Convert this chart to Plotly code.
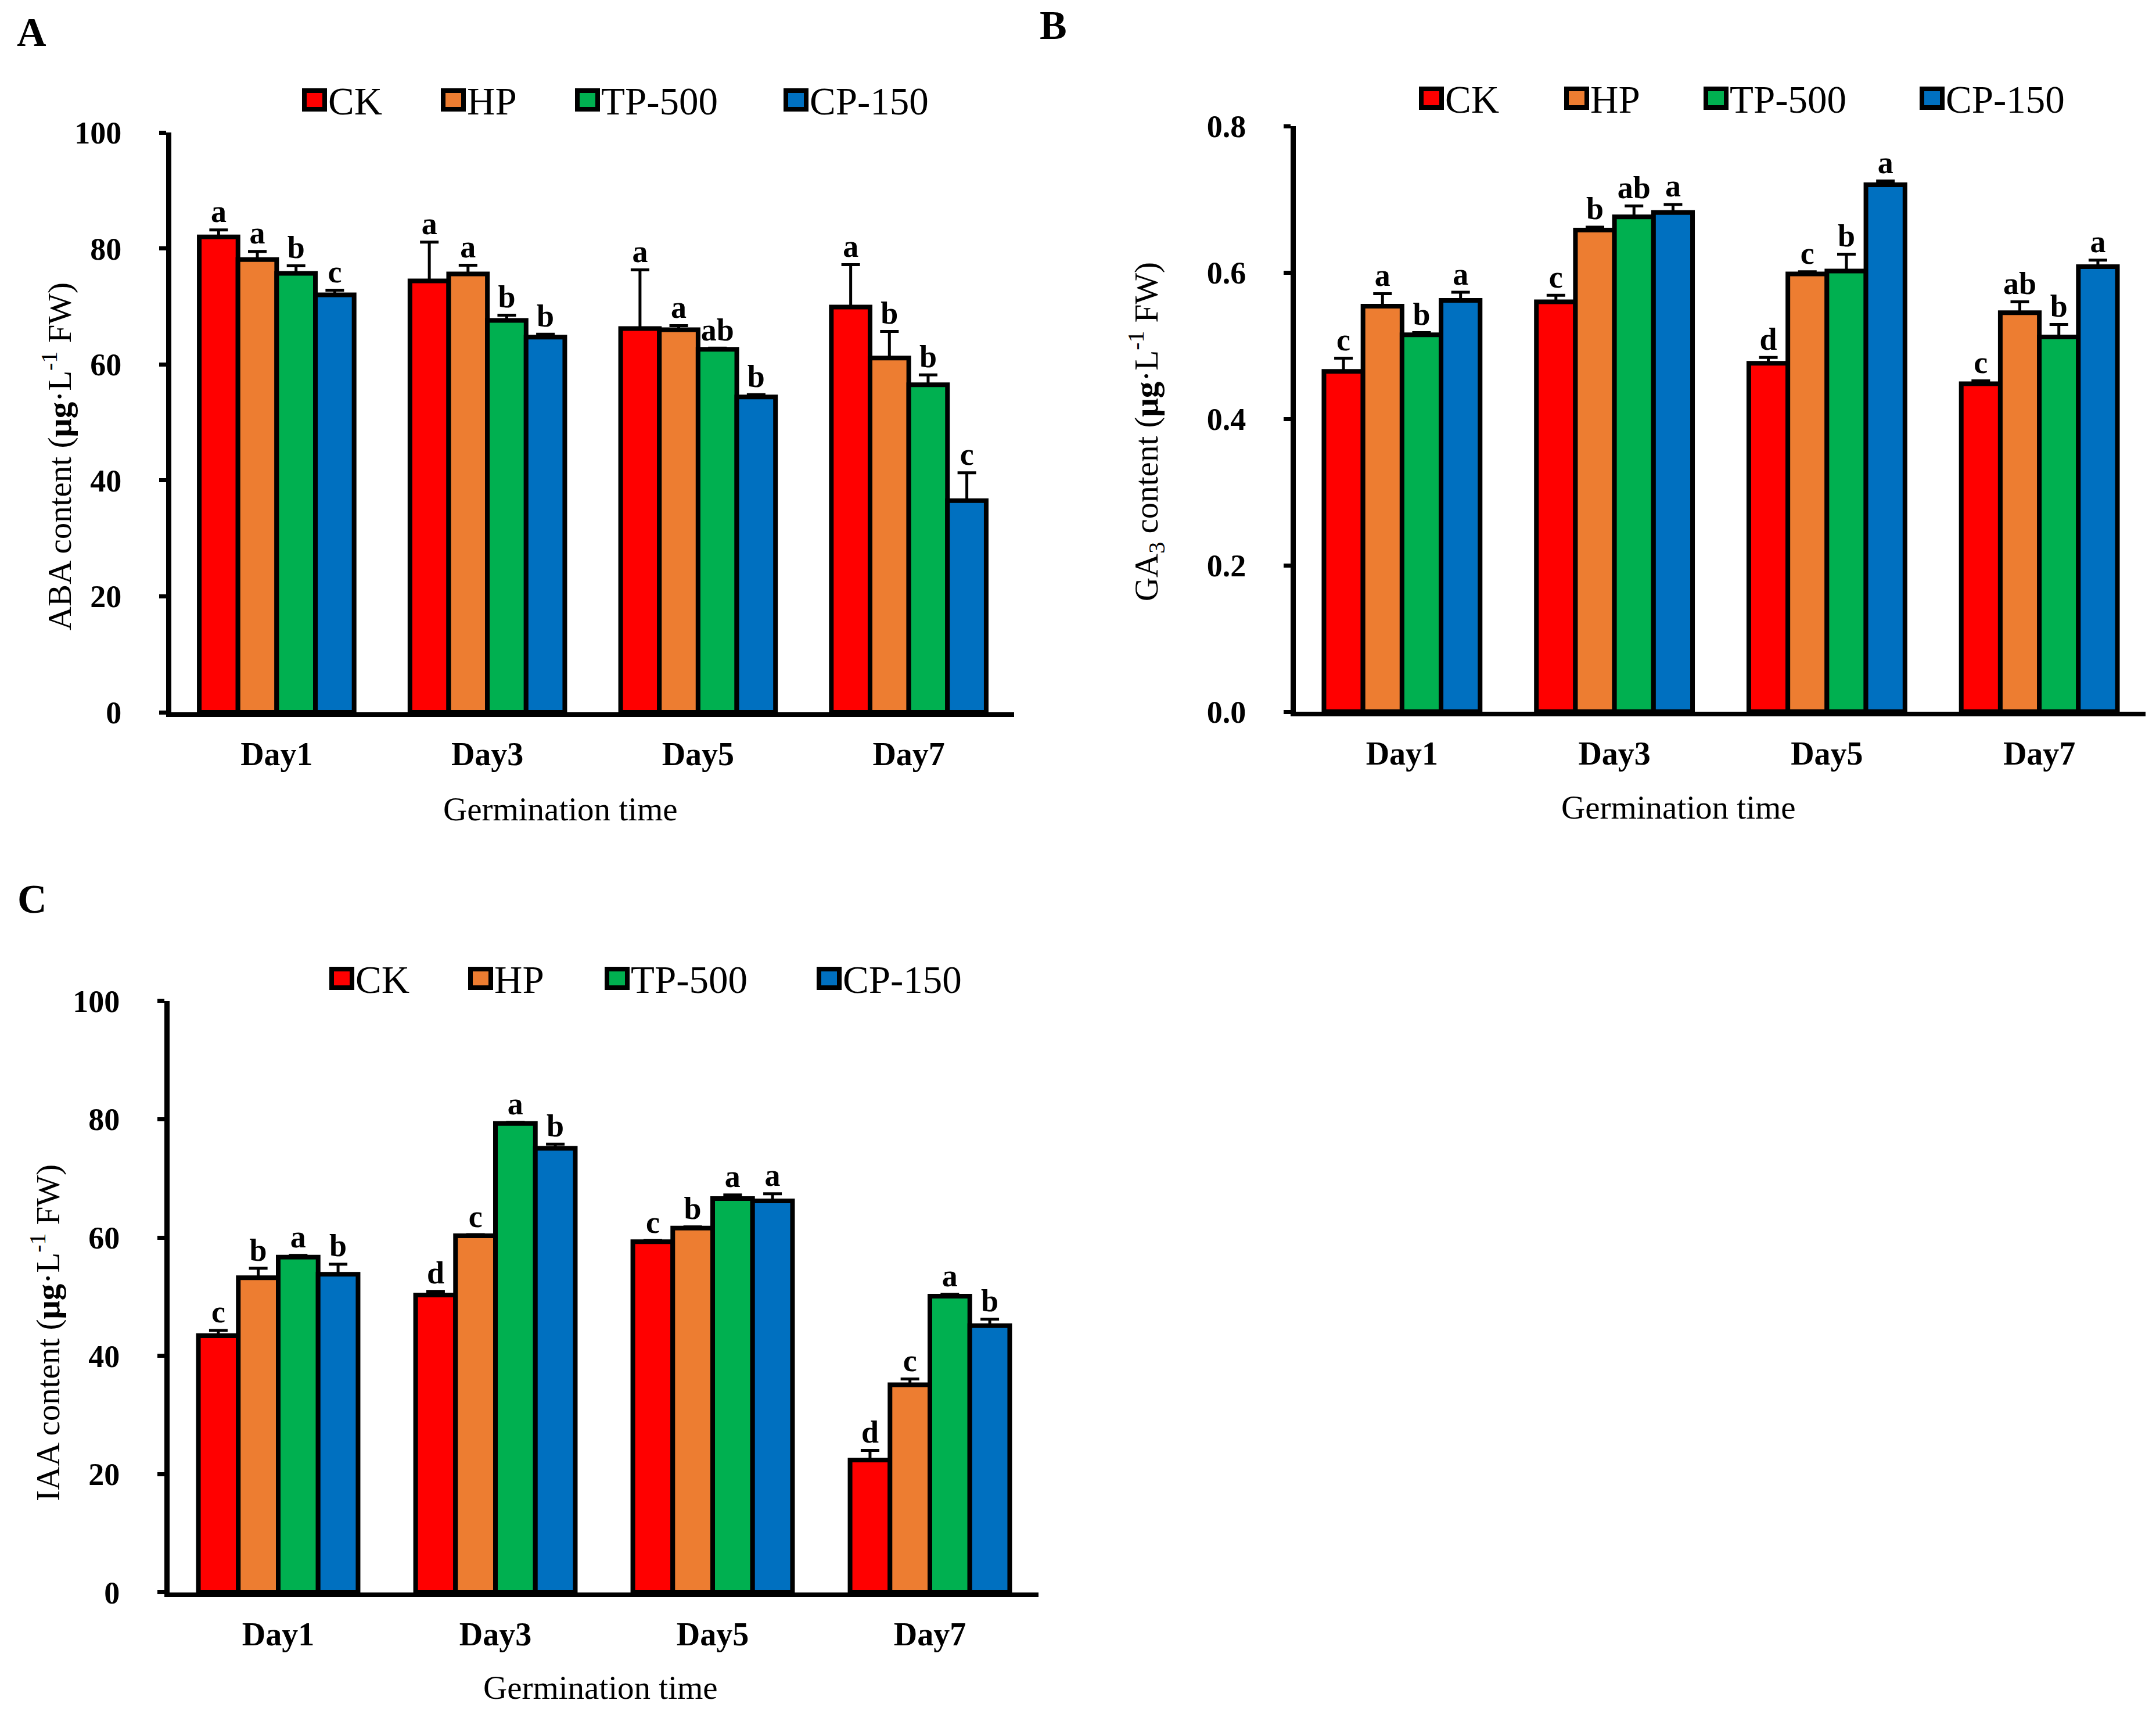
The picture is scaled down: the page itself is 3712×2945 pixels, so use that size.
import plotly.graph_objects as go

W, H = 3712, 2945

days = ["Day1", "Day3", "Day5", "Day7"]
treatments = ["CK", "HP", "TP-500", "CP-150"]
colors = ["#FF0000", "#ED7D31", "#00B050", "#0070C0"]

# Panel A: ABA content
aba_CK = [82.0, 74.4, 66.2, 69.9]
aba_HP = [78.1, 75.6, 66.0, 61.1]
aba_TP = [75.7, 67.6, 62.6, 56.5]
aba_CP = [72.0, 64.7, 54.4, 36.5]
aba_err_CK = [1.2, 6.7, 10.1, 7.3]
aba_err_HP = [1.4, 1.5, 0.7, 4.6]
aba_err_TP = [1.3, 0.9, 0.2, 1.7]
aba_err_CP = [0.8, 0.5, 0.4, 4.8]
aba_let_CK = ["a", "a", "a", "a"]
aba_let_HP = ["a", "a", "a", "b"]
aba_let_TP = ["b", "b", "ab", "b"]
aba_let_CP = ["c", "b", "b", "c"]

# Panel B: GA3 content
ga_CK = [0.465, 0.560, 0.476, 0.448]
ga_HP = [0.554, 0.658, 0.598, 0.545]
ga_TP = [0.515, 0.676, 0.602, 0.512]
ga_CP = [0.562, 0.682, 0.720, 0.608]
ga_err_CK = [0.018, 0.009, 0.008, 0.004]
ga_err_HP = [0.017, 0.004, 0.003, 0.015]
ga_err_TP = [0.003, 0.015, 0.023, 0.017]
ga_err_CP = [0.011, 0.011, 0.005, 0.009]
ga_let_CK = ["c", "c", "d", "c"]
ga_let_HP = ["a", "b", "c", "ab"]
ga_let_TP = ["b", "ab", "b", "b"]
ga_let_CP = ["a", "a", "a", "a"]

# Panel C: IAA content
iaa_CK = [43.4, 50.3, 59.3, 22.4]
iaa_HP = [53.2, 60.3, 61.6, 35.1]
iaa_TP = [56.7, 79.3, 66.6, 50.1]
iaa_CP = [53.8, 75.1, 66.2, 45.1]
iaa_err_CK = [0.9, 0.6, 0.2, 1.6]
iaa_err_HP = [1.6, 0.2, 0.2, 1.0]
iaa_err_TP = [0.3, 0.2, 0.6, 0.3]
iaa_err_CP = [1.7, 0.7, 1.2, 1.1]
iaa_let_CK = ["c", "d", "c", "d"]
iaa_let_HP = ["b", "c", "b", "c"]
iaa_let_TP = ["a", "a", "a", "a"]
iaa_let_CP = ["b", "b", "a", "b"]

y_ticks_A = [0, 20, 40, 60, 80, 100]
y_ticks_B = [0.0, 0.2, 0.4, 0.6, 0.8]
y_ticks_C = [0, 20, 40, 60, 80, 100]

FONT = "Liberation Serif"


def px_x(v):
    return v / W


def px_y(v):
    # compensate the page's vertical offset/scaling seen in the capture
    t = (v - 36.9) / 0.9797
    return 1 - t / H


panels = [
    dict(xa="x", ya="y",
         vals=[aba_CK, aba_HP, aba_TP, aba_CP],
         errs=[aba_err_CK, aba_err_HP, aba_err_TP, aba_err_CP],
         lets=[aba_let_CK, aba_let_HP, aba_let_TP, aba_let_CP]),
    dict(xa="x2", ya="y2",
         vals=[ga_CK, ga_HP, ga_TP, ga_CP],
         errs=[ga_err_CK, ga_err_HP, ga_err_TP, ga_err_CP],
         lets=[ga_let_CK, ga_let_HP, ga_let_TP, ga_let_CP]),
    dict(xa="x3", ya="y3",
         vals=[iaa_CK, iaa_HP, iaa_TP, iaa_CP],
         errs=[iaa_err_CK, iaa_err_HP, iaa_err_TP, iaa_err_CP],
         lets=[iaa_let_CK, iaa_let_HP, iaa_let_TP, iaa_let_CP]),
]

fig = go.Figure()
for p in panels:
    for i, name in enumerate(treatments):
        fig.add_trace(go.Bar(
            x=days, y=p["vals"][i], name=name,
            xaxis=p["xa"], yaxis=p["ya"], offsetgroup=str(i),
            marker=dict(color=colors[i], line=dict(color="black", width=8)),
            error_y=dict(type="data", array=p["errs"][i], arrayminus=[0] * 4,
                         symmetric=False, color="black", thickness=5, width=16),
            showlegend=False,
        ))
    for i, name in enumerate(treatments):
        tops = [v + e for v, e in zip(p["vals"][i], p["errs"][i])]
        fig.add_trace(go.Scatter(
            x=days, y=tops, text=p["lets"][i], mode="text",
            textposition="top center", offsetgroup=str(i),
            xaxis=p["xa"], yaxis=p["ya"], cliponaxis=False,
            textfont=dict(family=FONT, size=54, color="black", weight="bold"),
            showlegend=False, hoverinfo="skip",
        ))


def xaxis_cfg(x0, x1):
    return dict(domain=[px_x(x0), px_x(x1)], type="category", range=[-0.5, 3.5],
                showline=True, linecolor="black", linewidth=8, ticks="",
                showgrid=False, zeroline=False, fixedrange=True,
                tickfont=dict(family=FONT, size=56, color="black", weight="bold"),
                ticklabelstandoff=16)


def yaxis_cfg(y_top, y_bot, rng, tickvals, fmt, anchor):
    return dict(domain=[px_y(y_bot), px_y(y_top)], range=rng, tickvals=tickvals,
                tickformat=fmt, showline=True, linecolor="black", linewidth=9,
                ticks="outside", ticklen=12, tickwidth=7, tickcolor="black",
                showgrid=False, zeroline=False, anchor=anchor,
                tickfont=dict(family=FONT, size=54, color="black", weight="bold"),
                ticklabelstandoff=54)


fig.update_layout(
    width=W, height=H,
    margin=dict(l=0, r=0, t=0, b=0),
    paper_bgcolor="white", plot_bgcolor="white",
    barmode="group", bargap=0.265, bargroupgap=0,
    scattermode="group", scattergap=0.265,
    xaxis=dict(xaxis_cfg(287, 1738), anchor="y"),
    yaxis=yaxis_cfg(228, 1226, [0, 100], y_ticks_A, "d", "x"),
    xaxis2=dict(xaxis_cfg(2223, 3686), anchor="y2"),
    yaxis2=yaxis_cfg(217, 1225, [0, 0.8], y_ticks_B, ".1f", "x2"),
    xaxis3=dict(xaxis_cfg(284, 1780), anchor="y3"),
    yaxis3=yaxis_cfg(1723, 2741, [0, 100], y_ticks_C, "d", "x3"),
    showlegend=False,
)

ann = []
shapes = []
# panel labels
for lab, x, y in [("A", 46, 55), ("B", 1805, 43), ("C", 47, 1548)]:
    ann.append(dict(text=lab, x=px_x(x), y=px_y(y), xref="paper", yref="paper",
                    showarrow=False, xanchor="center", yanchor="middle",
                    font=dict(family=FONT, size=70, color="black", weight="bold")))
# x titles
for x, y in [(957, 1393), (2882, 1390), (1026, 2905)]:
    ann.append(dict(text="Germination time", x=px_x(x), y=px_y(y), xref="paper", yref="paper",
                    showarrow=False, xanchor="center", yanchor="middle",
                    font=dict(family=FONT, size=57, color="black")))
# y titles
ytitles = [
    ("ABA content (<b>μg</b>·L<sup>-1</sup> FW)", 90, 786),
    ("GA<sub>3</sub> content (<b>μg</b>·L<sup>-1</sup> FW)", 1965, 743),
    ("IAA content (<b>μg</b>·L<sup>-1</sup> FW)", 71, 2294),
]
for t, x, y in ytitles:
    ann.append(dict(text=t, x=px_x(x), y=px_y(y), xref="paper", yref="paper",
                    showarrow=False, xanchor="center", yanchor="middle", textangle=-90,
                    font=dict(family=FONT, size=57, color="black")))
# legends
legend_rows = [
    ([512, 751, 982, 1341], 172),
    ([2435, 2685, 2925, 3297], 169),
    ([559, 798, 1033, 1398], 1684),
]
for xs, cy in legend_rows:
    for i, x0 in enumerate(xs):
        shapes.append(dict(type="rect", xref="paper", yref="paper",
                           x0=px_x(x0 + 4), x1=px_x(x0 + 39),
                           y0=px_y(cy + 16), y1=px_y(cy - 16),
                           fillcolor=colors[i], line=dict(color="black", width=8)))
        ann.append(dict(text=treatments[i], x=px_x(x0 + 43), y=px_y(cy + 2),
                        xref="paper", yref="paper", showarrow=False,
                        xanchor="left", yanchor="middle",
                        font=dict(family=FONT, size=67, color="black")))

fig.update_layout(annotations=ann, shapes=shapes)
fig.write_html("out.html")
